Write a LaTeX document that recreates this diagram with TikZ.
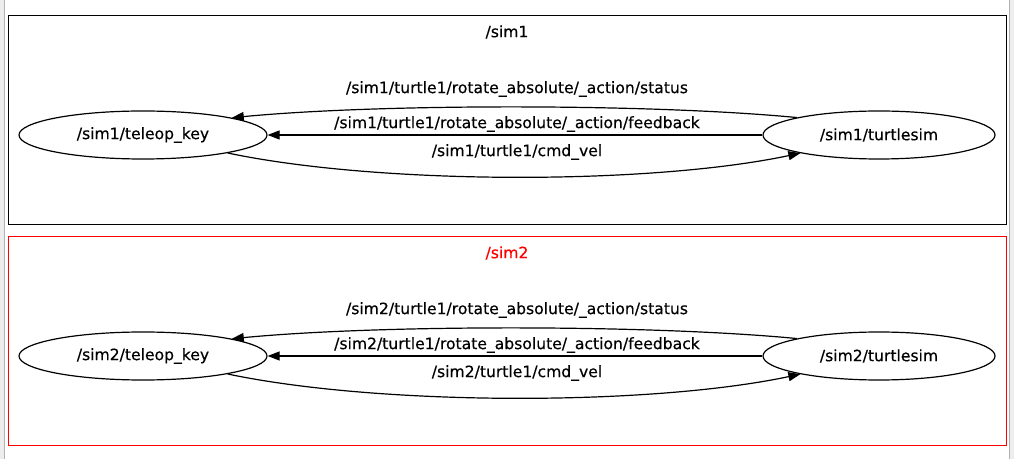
\documentclass[tikz,border=0pt]{standalone}
\usepackage{fontspec}
\setmainfont{DejaVu Sans}
\newfontfamily\lblfont[FakeBold=0.4]{DejaVu Sans}
\usetikzlibrary{arrows.meta,shapes.geometric}
\begin{document}
\begin{tikzpicture}[x=1bp,y=-1bp,
  every node/.style={font=\lblfont\fontsize{15.6bp}{18bp}\selectfont, inner sep=0pt},
  ell/.style={draw, ellipse, line width=1.2bp},
  edge/.style={draw, line width=1.2bp, -{Triangle[length=12bp,width=9bp]}},
  lbl/.style={anchor=center},
  frame/.style={line width=1.2bp}]
\useasboundingbox (0,0) rectangle (1014,459);
% screenshot side strips
\fill[gray!14] (0,0) rectangle (4,459);
\draw[gray!60, line width=1bp] (4.5,0) -- (4.5,459);
\fill[gray!14] (1009,0) rectangle (1014,459);
\draw[gray!60, line width=1bp] (1009.5,0) -- (1009.5,459);

% cluster sim1
\draw[frame] (8.5,15.5) rectangle (1006.5,224.5);
\node (c1) at (507,32) {/sim1};
\node[ell, minimum width=248bp, minimum height=48bp] (t1) at (143,135) {/sim1/teleop\_key};
\node[ell, minimum width=232bp, minimum height=48bp] (s1) at (879,135) {/sim1/turtlesim};
\draw[edge] (s1.168) .. controls (650,103.5) and (380,103.5) .. (t1.11);
\draw[edge] (s1.west) -- (t1.east);
\draw[edge] (t1.-12) .. controls (380,185) and (650,185) .. (s1.193);
\node[lbl] (l1a) at (517,89) {/sim1/turtle1/rotate\_absolute/\_action/status};
\node[lbl] (l1b) at (517,124) {/sim1/turtle1/rotate\_absolute/\_action/feedback};
\node[lbl] (l1c) at (517,152) {/sim1/turtle1/cmd\_vel};

% cluster sim2
\draw[frame, red] (8.5,236.5) rectangle (1006.5,445.5);
\node[red] (c2) at (507,253) {/sim2};
\node[ell, minimum width=248bp, minimum height=48bp] (t2) at (143,356) {/sim2/teleop\_key};
\node[ell, minimum width=232bp, minimum height=48bp] (s2) at (879,356) {/sim2/turtlesim};
\draw[edge] (s2.168) .. controls (650,324.5) and (380,324.5) .. (t2.11);
\draw[edge] (s2.west) -- (t2.east);
\draw[edge] (t2.-12) .. controls (380,406) and (650,406) .. (s2.193);
\node[lbl] (l2a) at (517,310) {/sim2/turtle1/rotate\_absolute/\_action/status};
\node[lbl] (l2b) at (517,345) {/sim2/turtle1/rotate\_absolute/\_action/feedback};
\node[lbl] (l2c) at (517,373) {/sim2/turtle1/cmd\_vel};
\end{tikzpicture}
\end{document}
